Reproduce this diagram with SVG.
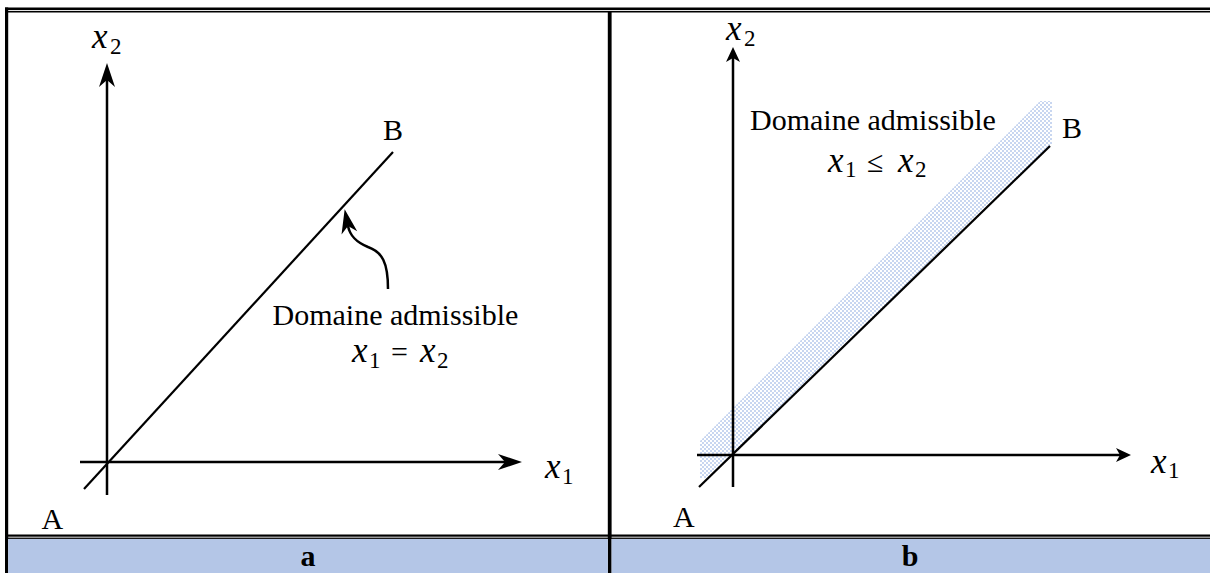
<svg xmlns="http://www.w3.org/2000/svg" width="1210" height="573" viewBox="0 0 1210 573">
<style>
.ax{stroke:#000;stroke-width:2.5;fill:none}
.dg{stroke:#000;stroke-width:2.2;fill:none}
.t{font-size:30px;fill:#000}
.m{font-style:italic;font-size:35px;fill:#000}
.s{font-size:23px;fill:#000}
.o{font-size:30px;fill:#000}
.lb{font-weight:bold;font-size:30px;fill:#000}
</style>
<defs>
<marker id="ahL" viewBox="-8 -9 27 18" refX="0" refY="0" markerWidth="27" markerHeight="18" markerUnits="userSpaceOnUse" orient="auto">
<path d="M17,0 L-7,-8 L0,0 L-7,8 Z" fill="#000"/>
</marker>
<marker id="ahS" viewBox="-5 -8 17 16" refX="0" refY="0" markerWidth="17" markerHeight="16" markerUnits="userSpaceOnUse" orient="auto">
<path d="M11,0 L-4,-7 L0,0 L-4,7 Z" fill="#000"/>
</marker>
<pattern id="dots" width="4" height="4" patternUnits="userSpaceOnUse">
<rect width="4" height="4" fill="#ffffff"/>
<rect x="0" y="0" width="2" height="2" fill="#c8d6f0"/>
<rect x="2" y="2" width="2" height="2" fill="#c8d6f0"/>
</pattern>
</defs>

<g id="frame">
<rect x="5" y="7.5" width="1205" height="2.6" fill="#000"/>
<rect x="5" y="11" width="1205" height="1.5" fill="#000"/>
<rect x="5" y="7.5" width="3.2" height="565.5" fill="#000"/>
<rect x="607.8" y="11" width="3.8" height="562" fill="#000"/>
<rect x="8" y="534.5" width="1202" height="2.2" fill="#000"/>
<rect x="8" y="537.6" width="1202" height="1.3" fill="#000"/>
<rect x="8.2" y="539" width="599.6" height="34" fill="#b4c6e7"/>
<rect x="611.6" y="539" width="598.4" height="34" fill="#b4c6e7"/>
</g>

<g id="band">
<polygon points="700,441 1040,101 1052,101 1052,144 1050,146 708,478 700,478" fill="url(#dots)"/>
</g>

<g id="connectors">
<line class="ax" x1="107" y1="495" x2="107" y2="80" marker-end="url(#ahL)"/>
<line class="ax" x1="80" y1="462" x2="505" y2="462" marker-end="url(#ahL)"/>
<line class="dg" x1="84" y1="489" x2="393" y2="152"/>
<path class="ax" d="M388,289 C388,262 382,252 368,247 C356,242 350,236 348,226" marker-end="url(#ahL)"/>
<line class="ax" x1="733" y1="487" x2="733" y2="58" marker-end="url(#ahS)"/>
<line class="ax" x1="697" y1="455" x2="1120" y2="455" marker-end="url(#ahS)"/>
<line class="dg" x1="699" y1="487" x2="1050" y2="146"/>
</g>

<g id="panel-a-labels" font-family="Liberation Serif, DejaVu Serif, serif">
<text class="m" x="92" y="48">x</text><text class="s" x="110" y="54">2</text>
<text class="m" x="545" y="478">x</text><text class="s" x="562" y="484">1</text>
<text class="t" x="383" y="140">B</text>
<text class="t" x="41.5" y="529">A</text>
<text class="t" x="272.5" y="325">Domaine admissible</text>
<text class="m" x="352" y="362">x</text><text class="s" x="369" y="368">1</text>
<text class="o" x="391" y="362">=</text>
<text class="m" x="420" y="362">x</text><text class="s" x="437" y="368">2</text>
</g>

<g id="panel-b-labels" font-family="Liberation Serif, DejaVu Serif, serif">
<text class="m" x="726" y="40">x</text><text class="s" x="744" y="46">2</text>
<text class="m" x="1151" y="473">x</text><text class="s" x="1168" y="478">1</text>
<text class="t" x="1062" y="138">B</text>
<text class="t" x="673" y="527">A</text>
<text class="t" x="750" y="130">Domaine admissible</text>
<text class="m" x="828" y="172">x</text><text class="s" x="845" y="177">1</text>
<text class="o" x="867" y="172">≤</text>
<text class="m" x="898" y="172">x</text><text class="s" x="915" y="177">2</text>
</g>

<g id="captions" font-family="Liberation Serif, DejaVu Serif, serif">
<text class="lb" x="308" y="566" text-anchor="middle">a</text>
<text class="lb" x="910" y="566" text-anchor="middle">b</text>
</g>
</svg>
